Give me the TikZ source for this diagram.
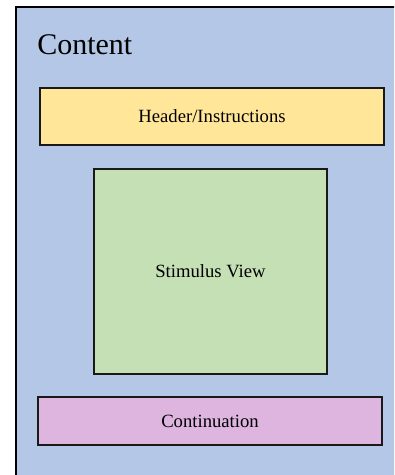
\documentclass[tikz,border=0pt]{standalone}
\usepackage{fontspec}
\setmainfont{Liberation Serif}
\definecolor{outerblue}{HTML}{B4C7E7}
\definecolor{hdryellow}{HTML}{FFE699}
\definecolor{stimgreen}{HTML}{C5E0B4}
\definecolor{contpink}{HTML}{DDB5DF}
\tikzset{
  panel/.style={draw=black!90, line width=1.5pt, inner sep=0pt, font=\fontsize{14}{16}\selectfont},
}
\begin{document}
\begin{tikzpicture}[x=0.75pt,y=-0.75pt]
\useasboundingbox (0,0) rectangle (394,475);
\clip (0,0) rectangle (394,475);
\node[draw=black, fill=outerblue, line width=1.2pt, minimum width=288.75pt, minimum height=357pt, anchor=north west, inner sep=0pt] (content) at (15,6) {};
\node[anchor=base west, font=\fontsize{22.5}{26}\selectfont, inner sep=0pt] (title) at (37,54) {Content};
\node[panel, fill=hdryellow, minimum width=258pt, minimum height=42.75pt] (hdr) at (212,116.5) {Header/Instructions};
\node[panel, fill=stimgreen, minimum width=174.75pt, minimum height=153.75pt] (stim) at (210.5,271.5) {Stimulus View};
\node[panel, fill=contpink, minimum width=258pt, minimum height=36pt] (cont) at (210,421) {Continuation};
\end{tikzpicture}
\end{document}
